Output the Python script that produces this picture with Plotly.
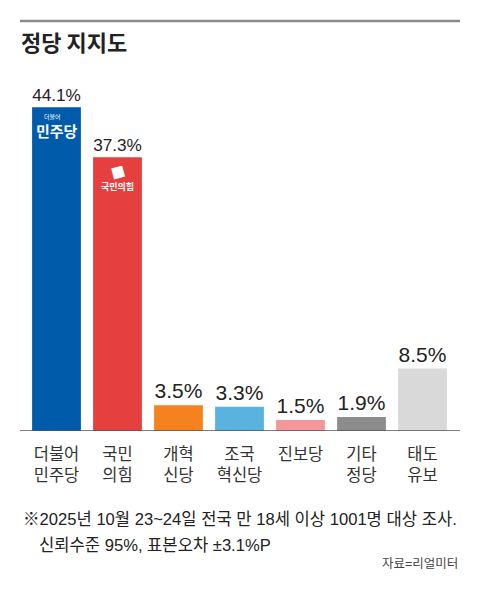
import plotly.graph_objects as go

# 데이터
parties = ["더불어<br>민주당", "국민<br>의힘", "개혁<br>신당", "조국<br>혁신당", "진보당", "기타<br>정당", "태도<br>유보"]
support = [44.1, 37.3, 3.5, 3.3, 1.5, 1.9, 8.5]
colors = ["#005BAA", "#E5403F", "#F5821F", "#5AB2DE", "#F4969A", "#8C8C8C", "#D9D9D9"]

FONT = "Liberation Sans, Noto Sans CJK KR, sans-serif"
KFONT = "Noto Sans CJK KR, sans-serif"

fig = go.Figure()

fig.add_trace(go.Bar(
    x=list(range(len(parties))),
    y=support,
    marker_color=colors,
    marker_line_width=0,
    text=[f"{v}%" for v in support],
    textposition="outside",
    textfont=dict(family=FONT, size=21, color="#222222"),
    cliponaxis=False,
    hoverinfo="skip",
))

# 상단 구분선 / 기준선
fig.add_shape(type="line", xref="paper", yref="paper", x0=-0.014, x1=1.0164, y0=1.1175, y1=1.1175,
              line=dict(color="#8a8a8a", width=2.5))
fig.add_shape(type="line", xref="paper", yref="y", x0=-0.014, x1=1.0164, y0=0, y1=0,
              line=dict(color="#555555", width=1.5))

# 정당 로고 (간략)
fig.add_annotation(x=0, y=40.9, text="<b>민주당</b>", showarrow=False,
                   font=dict(family=KFONT, size=15, color="white"))
fig.add_annotation(x=-0.07, y=42.8, text="더불어", showarrow=False,
                   font=dict(family=KFONT, size=6, color="white"))
fig.add_annotation(x=1, y=35.3, text="■", showarrow=False, textangle=-15,
                   font=dict(family=KFONT, size=14, color="white"))
fig.add_annotation(x=1, y=33.3, text="<b>국민의힘</b>", showarrow=False,
                   font=dict(family=KFONT, size=9, color="white"))

# 제목
fig.add_annotation(xref="paper", yref="paper", x=-0.016, y=1.063, xanchor="left", yanchor="middle",
                   text="<b>정당 지지도</b>", showarrow=False,
                   font=dict(family=KFONT, size=22, color="#222222"))

# 각주
fig.add_annotation(xref="paper", yref="paper", x=-0.012, y=-0.241, xanchor="left", yanchor="middle",
                   text="※2025년 10월 23~24일 전국 만 18세 이상 1001명 대상 조사.", showarrow=False,
                   font=dict(family=FONT, size=16.6, color="#222222"))
fig.add_annotation(xref="paper", yref="paper", x=0.025, y=-0.312, xanchor="left", yanchor="middle",
                   text="신뢰수준 95%, 표본오차 ±3.1%P", showarrow=False,
                   font=dict(family=FONT, size=16.6, color="#222222"))
fig.add_annotation(xref="paper", yref="paper", x=1.0164, y=-0.362, xanchor="right", yanchor="middle",
                   text="자료=리얼미터", showarrow=False,
                   font=dict(family=FONT, size=12.5, color="#444444"))

fig.update_layout(
    width=480, height=598,
    margin=dict(l=26, r=26.5, t=63.5, b=167),
    paper_bgcolor="white",
    plot_bgcolor="white",
    showlegend=False,
    bargap=0.2,
    xaxis=dict(
        tickmode="array",
        tickvals=list(range(len(parties))),
        ticktext=parties,
        tickfont=dict(family=KFONT, size=16.5, color="#333333"),
        showline=False, showgrid=False, zeroline=False,
        ticks="", ticklabelstandoff=11,
        range=[-0.5, len(parties) - 0.5],
        fixedrange=True,
    ),
    yaxis=dict(
        range=[0, 50],
        visible=False,
        fixedrange=True,
    ),
)

fig.write_html("out.html", config={"displayModeBar": False},
               post_script="document.body.style.margin='0';")
